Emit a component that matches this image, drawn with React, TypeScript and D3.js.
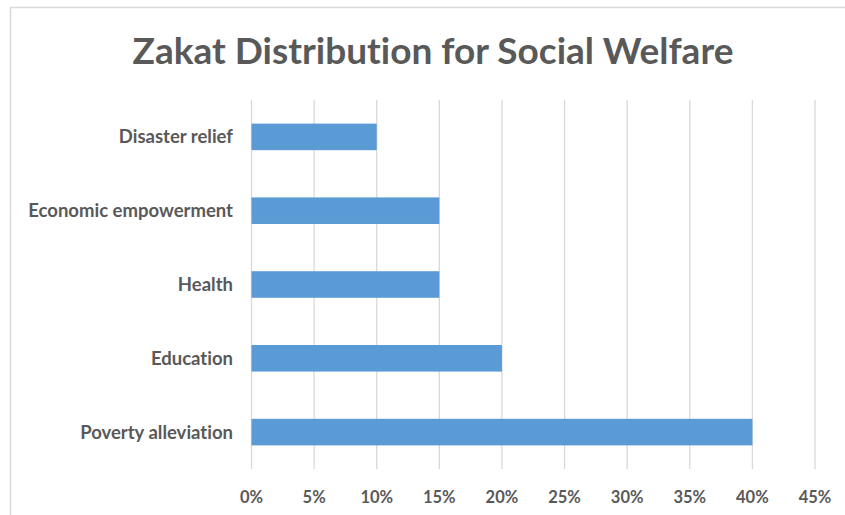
import React from "react";
import * as d3 from "d3";

const categories = ["Disaster relief", "Economic empowerment", "Health", "Education", "Poverty alleviation"];
const values = [10, 15, 15, 20, 40];
const tickValues = [0, 5, 10, 15, 20, 25, 30, 35, 40, 45];
const title = "Zakat Distribution for Social Welfare";

export default function App() {
  const W = 845, H = 515;
  const left = 251.5, right = 815, top = 100, bottom = 469;
  const x = d3.scaleLinear().domain([0, 45]).range([left, right]);
  const y = d3.scaleBand<string>().domain(categories).range([top, bottom]).paddingInner(0.64).paddingOuter(0.32);
  const font = "Lato, sans-serif";
  const grey = "#595959";
  const noLig = { fontVariantLigatures: "none" as const };
  return (
    <svg width={W} height={H} style={{ position: "absolute", left: 0, top: 0, background: "#fff" }}>
      <rect x={10.5} y={7.5} width={850} height={520} fill="#fff" stroke="#d9d9d9" strokeWidth={1.5} />
      <text x={433} y={64} textAnchor="middle" fontFamily={font} fontWeight={700} fontSize={37} fill={grey} style={noLig}>{title}</text>
      {tickValues.map((t) => (
        <line key={t} x1={x(t)} x2={x(t)} y1={top} y2={bottom} stroke="#d9d9d9" strokeWidth={1.3} />
      ))}
      {categories.map((c, i) => (
        <rect key={c} x={x(0)} y={y(c)} width={x(values[i]) - x(0)} height={y.bandwidth()} fill="#5b9bd5" />
      ))}
      {categories.map((c) => (
        <text key={c} x={233} y={(y(c) as number) + y.bandwidth() / 2} dy="0.35em" textAnchor="end" fontFamily={font} fontWeight={700} fontSize={18.5} fill={grey} style={noLig}>{c}</text>
      ))}
      {tickValues.map((t) => (
        <text key={t} x={x(t)} y={497} dy="0.35em" textAnchor="middle" fontFamily={font} fontWeight={700} fontSize={16.5} fill={grey}>{t + "%"}</text>
      ))}
    </svg>
  );
}
